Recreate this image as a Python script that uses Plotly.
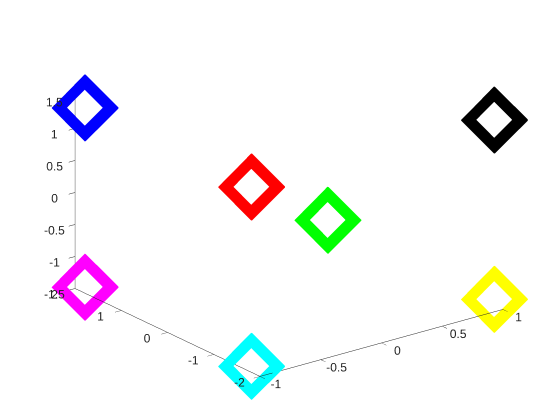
import plotly.graph_objects as go
import math

x_vals = [-1, -1, -1, -1, 1, 1, 1, 1]
y_vals = [1.8, 1.8, -1.8, -1.8, -1.8, -1.8, 1.8, 1.8]
z_vals = [1.4, -1.4, 1.4, -1.4, 1.4, -1.4, -1.4, 1.4]
colors = ["#0000ff", "#ff00ff", "#ff0000", "#00ffff", "#000000", "#ffff00", "#00ff00", "#ffffff"]

x_ticks = [-1, -0.5, 0, 0.5, 1]
y_ticks = [-2, -1, 0, 1, 2]
z_ticks = [-1.5, -1, -0.5, 0, 0.5, 1, 1.5]

az = math.radians(-37.3)
el = math.radians(20.6)
dist = 3.0
eye = dict(x=dist * math.sin(az) * math.cos(el),
           y=-dist * math.cos(az) * math.cos(el),
           z=dist * math.sin(el))

fig = go.Figure()
for sz in [15, 16.5, 18, 19.5, 21, 22]:
    fig.add_trace(go.Scatter3d(
        x=x_vals, y=y_vals, z=z_vals, mode="markers",
        marker=dict(symbol="diamond-open", size=sz, color=colors,
                    line=dict(width=6, color=colors)),
        showlegend=False, hoverinfo="skip"))

k = 1.515
def ax(vals, rng):
    return dict(range=rng, tickvals=vals, ticktext=[f"{v:g}" for v in vals],
                showgrid=False, zeroline=False, showbackground=False,
                showline=True, linecolor="#262626", linewidth=1,
                ticks="outside", ticklen=8, tickcolor="#262626", tickangle=0,
                showspikes=False, title=dict(text=""),
                tickfont=dict(family="Liberation Sans, Arial", size=12, color="#262626"))

fig.update_layout(
    width=560, height=420, margin=dict(l=0, r=0, t=0, b=0),
    paper_bgcolor="white",
    scene=dict(
        domain=dict(x=[0.0155, 0.9875], y=[0.04, 1.0]),
        xaxis=ax(x_ticks, [-1, 1]),
        yaxis=ax(y_ticks, [-2, 2]),
        zaxis=ax(z_ticks, [-1.5, 1.5]),
        aspectmode="manual", aspectratio=dict(x=k, y=k, z=0.675 * k),
        camera=dict(eye=eye, up=dict(x=0, y=0, z=1), center=dict(x=0, y=0, z=-0.035),
                    projection=dict(type="orthographic")),
    ),
)
fig.write_html("out.html")
